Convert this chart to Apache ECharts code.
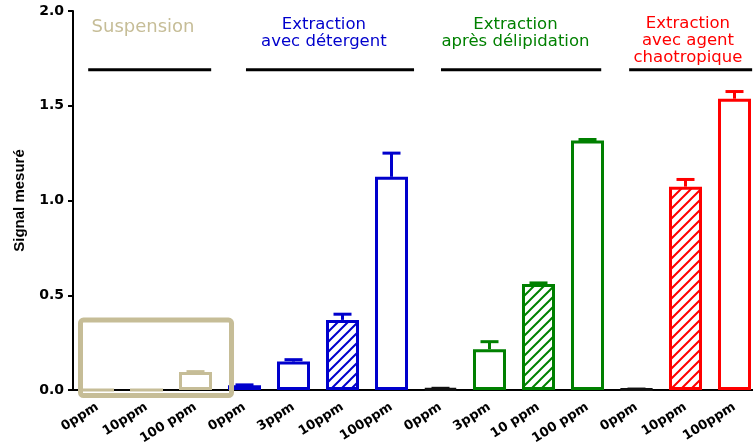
<!DOCTYPE html>
<html>
<head>
<meta charset="utf-8">
<script src="https://cdn.jsdelivr.net/npm/echarts@6/dist/echarts.min.js"></script>
<style>
  html, body { margin: 0; padding: 0; background: #fff; }
  #chart { width: 753px; height: 444px; }
</style>
</head>
<body>
<div id="chart"></div>
<script>
// Concentration labels along the x axis, one per bar
const categories = ['0ppm', '10ppm', '100 ppm', '0ppm', '3ppm', '10ppm', '100ppm',
                    '0ppm', '3ppm', '10 ppm', '100 ppm', '0ppm', '10ppm', '100ppm'];

// Mean signal and SEM (upper error) per preparation method
const suspensionMeans = [0, 0, 0.095];
const suspensionSem   = [0, 0, 0.002];
const detergentMeans  = [0.025, 0.15, 0.37, 1.125];
const detergentSem    = [0.002, 0.01, 0.03, 0.125];
const delipMeans      = [0.008, 0.215, 0.56, 1.317];
const delipSem        = [0.001, 0.04, 0.005, 0.005];
const chaotropeMeans  = [0.004, 1.073, 1.537];
const chaotropeSem    = [0.001, 0.038, 0.038];

// Group headers
const groupTitles = ['Suspension', 'Extraction\navec détergent',
                     'Extraction\naprès délipidation', 'Extraction\navec agent\nchaotropique'];

// Y axis tick values
const yTicks = [0, 0.5, 1.0, 1.5, 2.0];

// ---- styling ----
const BEIGE = '#c6bd97', BLUE = '#0000cc', GREEN = '#008000', RED = '#ff0000', DARK = '#111111';
const groupColors = [BEIGE, BLUE, GREEN, RED];

// colour / hatch of each bar
const barColors = [BEIGE, BEIGE, BEIGE, BLUE, BLUE, BLUE, BLUE,
                   DARK, GREEN, GREEN, GREEN, DARK, RED, RED];
const hatched = [false, false, false, false, false, true, false,
                 false, false, true, false, false, true, false];

// Header placement on the hidden value x axis (category i sits at i)
const headerLayout = [
  { x0: -0.19, x1: 2.32,  tx: 0.93,  ty: 1.916, size: 18 },
  { x0: 3.03,  x1: 6.46,  tx: 4.62,  ty: 1.881, size: 16.5 },
  { x0: 7.01,  x1: 10.28, tx: 8.53,  ty: 1.881, size: 16.5 },
  { x0: 10.85, x1: 13.36, tx: 12.05, ty: 1.844, size: 16.5 }
];
const headerLineY = 1.69;
const highlightBox = [-0.347, 0.369, 2.735, -0.029];

function makeHatch(color) {
  const c = document.createElement('canvas');
  c.width = 10; c.height = 10;
  const g = c.getContext('2d');
  g.fillStyle = '#fff';
  g.fillRect(0, 0, 10, 10);
  g.strokeStyle = color;
  g.lineWidth = 2;
  g.beginPath();
  g.moveTo(-2, 12); g.lineTo(12, -2);
  g.moveTo(-2, 2); g.lineTo(2, -2);
  g.moveTo(8, 12); g.lineTo(12, 8);
  g.stroke();
  return { image: c, repeat: 'repeat' };
}

const allMeans = [].concat(suspensionMeans, detergentMeans, delipMeans, chaotropeMeans);
const allSem = [].concat(suspensionSem, detergentSem, delipSem, chaotropeSem);

const barData = allMeans.map((v, i) => ({
  value: v,
  itemStyle: {
    color: hatched[i] ? makeHatch(barColors[i]) : '#ffffff',
    borderColor: barColors[i],
    borderWidth: 3
  }
}));

const errData = allMeans.map((v, i) => [i, v, v + allSem[i]]);

const chart = echarts.init(document.getElementById('chart'), null, { renderer: 'canvas' });

chart.setOption({
  animation: false,
  backgroundColor: '#ffffff',
  grid: { left: 73, top: 11, width: 686, height: 379, containLabel: false, outerBoundsMode: 'none' },
  xAxis: [
    {
      type: 'category',
      data: categories,
      boundaryGap: true,
      axisLine: { onZero: false, lineStyle: { color: '#000', width: 2 } },
      axisTick: { alignWithLabel: true, length: 5, lineStyle: { color: '#000', width: 2 } },
      axisLabel: {
        interval: 0, rotate: 32, margin: 16,
        color: '#000', fontFamily: 'DejaVu Sans', fontWeight: 'bold', fontSize: 13
      }
    },
    { type: 'value', min: -0.5, max: 13.5, show: false }
  ],
  yAxis: {
    type: 'value', min: 0, max: 2, interval: 0.5,
    name: 'Signal mesuré', nameLocation: 'middle', nameRotate: 90, nameGap: 46,
    nameTextStyle: { color: '#000', fontFamily: 'Liberation Sans', fontWeight: 'bold', fontSize: 15 },
    axisLine: { show: true, onZero: false, lineStyle: { color: '#000', width: 2 } },
    axisTick: { show: true, length: 5, lineStyle: { color: '#000', width: 2 } },
    splitLine: { show: false },
    axisLabel: {
      margin: 9, color: '#000', fontFamily: 'DejaVu Sans', fontWeight: 'bold', fontSize: 14,
      formatter: v => yTicks.indexOf(v) >= 0 ? v.toFixed(1) : ''
    }
  },
  series: [
    {
      type: 'bar',
      xAxisIndex: 0,
      barWidth: 33,
      data: barData,
      z: 2
    },
    {
      type: 'custom',
      xAxisIndex: 0,
      data: errData,
      z: 3,
      renderItem(params, api) {
        const i = params.dataIndex;
        if (allSem[i] <= 0) return null;
        const p0 = api.coord([api.value(0), api.value(1)]);
        const p1 = api.coord([api.value(0), api.value(2)]);
        const style = { stroke: barColors[i], lineWidth: 3 };
        return {
          type: 'group',
          children: [
            { type: 'line', shape: { x1: p0[0], y1: p0[1], x2: p1[0], y2: p1[1] }, style },
            { type: 'line', shape: { x1: p1[0] - 9, y1: p1[1], x2: p1[0] + 9, y2: p1[1] }, style }
          ]
        };
      }
    },
    {
      type: 'custom',
      xAxisIndex: 1,
      data: groupTitles.map((t, i) => [i]),
      z: 4,
      renderItem(params, api) {
        const i = params.dataIndex;
        const L = headerLayout[i];
        const a = api.coord([L.x0, headerLineY]);
        const b = api.coord([L.x1, headerLineY]);
        const t = api.coord([L.tx, L.ty]);
        return {
          type: 'group',
          children: [
            { type: 'line', shape: { x1: a[0], y1: a[1], x2: b[0], y2: b[1] },
              style: { stroke: '#000', lineWidth: 3 } },
            { type: 'text', x: t[0], y: t[1],
              style: { text: groupTitles[i], fill: groupColors[i], align: 'center',
                       verticalAlign: 'middle', fontFamily: 'DejaVu Sans',
                       fontSize: L.size, lineHeight: 17 } }
          ]
        };
      }
    },
    {
      type: 'custom',
      xAxisIndex: 1,
      data: [highlightBox],
      z: 5,
      renderItem(params, api) {
        const p0 = api.coord([api.value(0), api.value(1)]);
        const p1 = api.coord([api.value(2), api.value(3)]);
        return {
          type: 'rect',
          shape: { x: p0[0], y: p0[1], width: p1[0] - p0[0], height: p1[1] - p0[1], r: 3 },
          style: { fill: null, stroke: BEIGE, lineWidth: 5 }
        };
      }
    }
  ]
});
</script>
</body>
</html>
